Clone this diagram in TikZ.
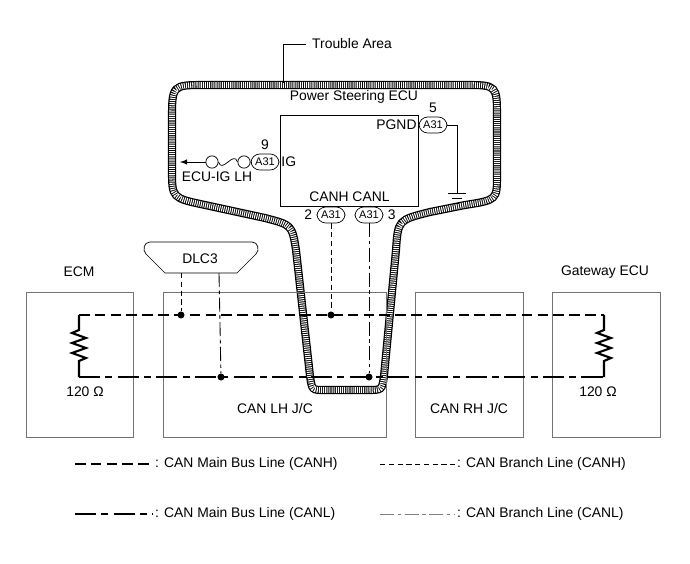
\documentclass[tikz,border=0pt]{standalone}
\usepackage{fontspec}
\setmainfont{Liberation Sans}
\usetikzlibrary{calc,decorations.pathmorphing}
\begin{document}
\begin{tikzpicture}[x=0.02cm,y=-0.02cm,font=\fontsize{7.9pt}{9pt}\selectfont,
    conn/.style={draw, rounded corners=5pt, inner sep=1.2pt, minimum width=28*0.02cm, minimum height=16*0.02cm, font=\fontsize{6.3pt}{7pt}\selectfont},
    box/.style={draw=black!55, line width=0.5pt},
    mainh/.style={line width=1.6pt, dash pattern=on 6pt off 3pt},
    mainl/.style={line width=1.6pt, dash pattern=on 12pt off 3pt on 4pt off 3pt},
    branchh/.style={line width=0.5pt, dash pattern=on 3pt off 2pt},
    branchl/.style={line width=0.5pt, dash pattern=on 8pt off 2pt on 2pt off 2pt},
    dot/.style={circle, fill, inner sep=0pt, minimum size=4pt}]
    \useasboundingbox (0,0) rectangle (690,564);
    % trouble area
    \def\trouble{(172,120) .. controls (172,85) .. (205,85) -- (465,85) .. controls (497,85) .. (497,118)
        -- (497,175) .. controls (497,200) .. (465,205) -- (430,212) .. controls (398,220) .. (396,250)
        -- (384,376) .. controls (382,390) .. (368,390) -- (324,390) .. controls (312,390) .. (310,376)
        -- (296,250) .. controls (292,225) .. (265,218) -- (205,205) .. controls (172,198) .. (172,170) -- cycle}
    \draw[line width=4.6pt] \trouble;
    \draw[line width=3.2pt, white, dash pattern=on 0.6pt off 0.6pt] \trouble;
    \node[anchor=west] (ta) at (306,44) {Trouble Area};
    \draw (ta.west) -- (283,44) -- (283,83);
    % ECU
    \node[draw, minimum width=138*0.02cm, minimum height=91*0.02cm, inner sep=0pt] (ecu) at (349,160.5) {};
    \node (pse) at (354,97) {Power Steering ECU};
    \node[conn] (c5) at (433,125) {A31};
    \node[anchor=east, inner sep=1pt] at (c5.west) {PGND};
    \node[above=-1pt] at (c5.north) {5};
    \coordinate (gnd) at (457,193);
    \draw (c5.east) -| (gnd);
    \draw (gnd) ++(-9,0) -- ++(18,0) ++(-14,5) -- ++(10,0) ++(-7,5) -- ++(4,0);
    \node[conn] (c9) at (265,162) {A31};
    \node[anchor=west, inner sep=1pt] at (c9.east) {IG};
    \node[above=-1pt] at (c9.north) {9};
    \node[circle, draw, inner sep=0pt, minimum size=7pt] (f1) at (244,162) {};
    \node[circle, draw, inner sep=0pt, minimum size=7pt] (f2) at (212,162) {};
    \coordinate (ig) at (180,162);
    \draw (c9.west) -- (f1);
    \draw (f1.west) .. controls (234,150) and (222,174) .. (f2.east);
    \draw[-latex] (f2.west) -- (ig);
    \node at (217,177) {ECU-IG LH};
    \node[conn] (c2) at (331,215) {A31};
    \node[conn] (c3) at (369,215) {A31};
    \node[left=-1pt] at (c2.west) {2};
    \node[right=-1pt] at (c3.east) {3};
    \node at (329,197) {CANH};
    \node at (371,197) {CANL};
    % DLC3
    \draw (165,273) -- (237,273) -- (256,254) .. controls (260,250) and (258,242) .. (252,242)
        -- (150,242) .. controls (144,242) and (142,250) .. (146,254) -- cycle;
    \node (dlc) at (200,259) {DLC3};
    % boxes
    \draw[box] (26,292) rectangle (133,437);
    \draw[box] (163,292) rectangle (386,437);
    \draw[box] (415,292) rectangle (523,437);
    \draw[box] (552,292) rectangle (660,437);
    \node at (79,272) {ECM};
    \node at (605,272) {Gateway ECU};
    \node at (85,392) {120 Ω};
    \node at (598,392) {120 Ω};
    \node at (275,409) {CAN LH J/C};
    \node at (469,409) {CAN RH J/C};
    % buses
    \coordinate (hl) at (79,315); \coordinate (hr) at (604,315);
    \coordinate (ll) at (79,377); \coordinate (lr) at (604,377);
    \draw[mainh] (hl) -- (hr);
    \draw[mainl] (ll) -- (lr);
    \foreach \x in {79,604}{
        \draw[line width=1.2pt, line join=miter] (\x,315) -- (\x,330) -- ++(-7,3) -- ++(14,5) -- ++(-14,5) -- ++(14,5) -- ++(-14,5) -- ++(14,5) -- ++(-7,3) -- (\x,377);
    }
    \node[dot] (d1) at (181,315) {};
    \node[dot] (d2) at (331,315) {};
    \node[dot] (d3) at (221,377) {};
    \node[dot] (d4) at (369,377) {};
    \draw[branchh] (181,273) -- (d1);
    \draw[branchl] (219,273) -- (d3);
    \draw[branchh] (c2) -- (d2);
    \draw[branchl] (c3) -- (d4);
    % legend
    \draw[mainh] (75,464) -- (153,464);
    \node[anchor=west, inner sep=1pt] at (153,464) {: CAN Main Bus Line (CANH)};
    \draw[mainl] (75,514) -- (153,514);
    \node[anchor=west, inner sep=1pt] at (153,514) {: CAN Main Bus Line (CANL)};
    \draw[branchh] (380,464) -- (455,464);
    \node[anchor=west, inner sep=1pt] at (455,464) {: CAN Branch Line (CANH)};
    \draw[branchl, draw=black!50] (380,514) -- (455,514);
    \node[anchor=west, inner sep=1pt] at (455,514) {: CAN Branch Line (CANL)};
\end{tikzpicture}
\end{document}
